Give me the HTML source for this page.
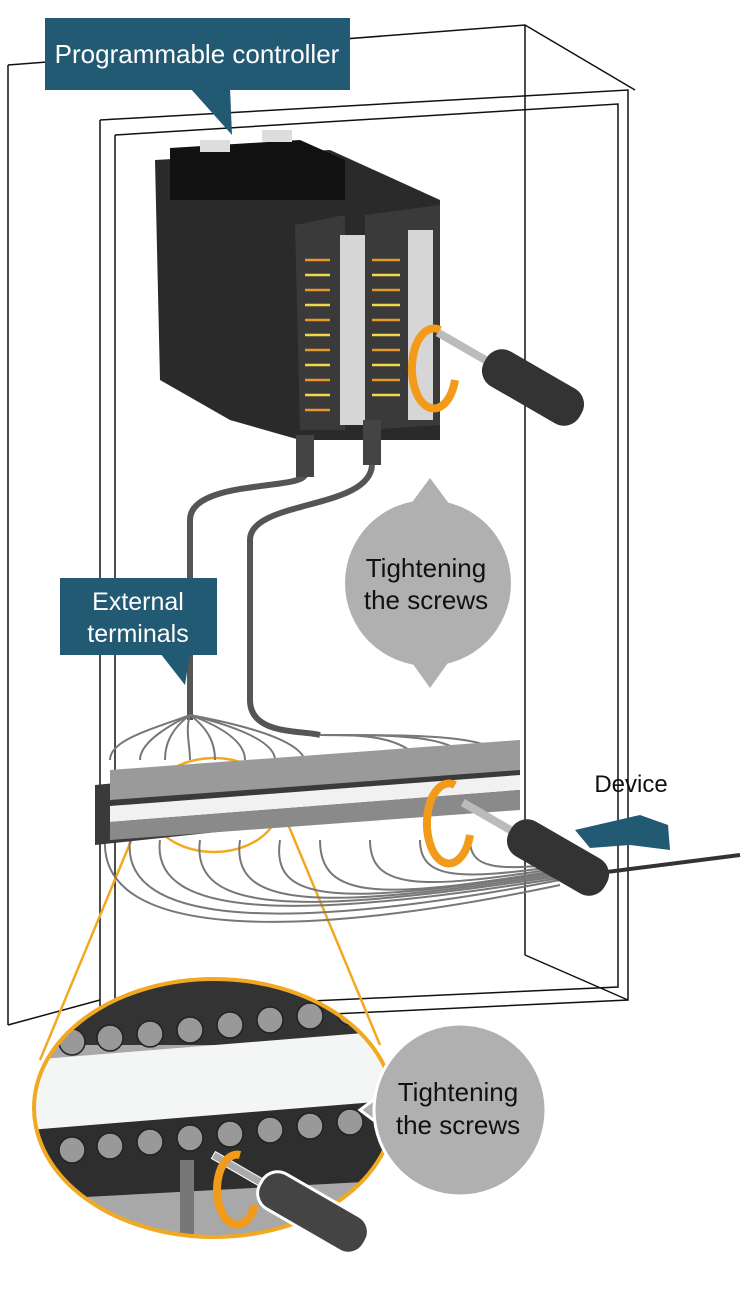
<!DOCTYPE html>
<html><head><meta charset="utf-8"><style>
html,body{margin:0;padding:0;background:#fff;}
svg{display:block;}
text{font-family:"Liberation Sans",sans-serif;}
</style></head><body>
<svg width="750" height="1312" viewBox="0 0 750 1312" xmlns="http://www.w3.org/2000/svg">
<defs>
<clipPath id="mag"><ellipse cx="214" cy="1108" rx="180" ry="129"/></clipPath>
<linearGradient id="tb" x1="0" y1="0" x2="0" y2="1"><stop offset="0" stop-color="#555"/><stop offset="1" stop-color="#222"/></linearGradient>
</defs>
<!-- cabinet -->
<g fill="none" stroke="#111" stroke-width="1.5">
<polyline points="8,65 525,25 635,90"/>
<line x1="8" y1="65" x2="8" y2="1025"/>
<line x1="8" y1="1025" x2="100" y2="1000"/>
<line x1="525" y1="25" x2="525" y2="955"/>
<line x1="525" y1="955" x2="628" y2="1000"/>
<polyline points="100,120 628,90 628,1000 100,1025 100,120"/>
<polyline points="115,135 618,104 618,987 115,1010 115,135"/>
</g>
<!-- orange zoom lines -->
<g stroke="#f2a922" stroke-width="2.5" fill="none">
<line x1="148" y1="800" x2="40" y2="1060"/>
<line x1="280" y1="805" x2="380" y2="1045"/>
<ellipse cx="214" cy="805" rx="65" ry="47"/>
</g>
<!-- cables -->
<g fill="none" stroke="#555" stroke-width="6">
<path d="M305,475 C300,490 190,480 190,520 L190,720"/>
<path d="M372,465 C370,510 250,500 250,540 L250,700 C250,735 300,730 320,735"/>
</g>
<g fill="none" stroke="#777" stroke-width="2">
<path d="M190,715 C150,730 110,740 110,760"/><path d="M190,715 C160,730 140,745 140,760"/><path d="M190,715 C170,730 165,745 165,760"/><path d="M190,715 C185,730 190,745 190,760"/><path d="M190,715 C210,730 215,745 215,760"/><path d="M190,715 C230,730 245,745 245,760"/><path d="M190,715 C250,730 275,745 275,760"/><path d="M190,715 C270,730 300,745 305,760"/>
<path d="M320,735 C360,735 400,735 420,760"/><path d="M320,735 C400,735 450,735 470,760"/><path d="M320,735 C430,735 490,735 510,760"/>
<path d="M105,840 C100,940 300,940 560,885"/><path d="M130,840 C120,930 300,930 560,880"/><path d="M160,840 C150,920 300,920 560,878"/><path d="M200,840 C190,915 300,915 560,876"/><path d="M240,840 C230,910 320,910 560,874"/><path d="M280,840 C270,905 340,905 560,872"/><path d="M320,840 C320,900 380,900 560,870"/><path d="M370,840 C370,890 420,890 560,868"/><path d="M420,840 C420,880 460,880 560,866"/><path d="M470,840 C470,870 500,870 560,864"/>
</g>
<line x1="560" y1="878" x2="740" y2="855" stroke="#333" stroke-width="4"/>
<!-- terminal block -->
<polygon points="95,785 520,745 520,800 95,845" fill="#3a3a3a"/>
<polygon points="110,770 520,740 520,770 110,800" fill="#9a9a9a"/>
<polygon points="110,806 520,775 520,790 110,822" fill="#f1f1f1"/>
<polygon points="110,822 520,790 520,810 110,840" fill="#8a8a8a"/>
<!-- PLC -->
<polygon points="155,160 330,150 440,200 440,440 300,440 230,420 160,380" fill="#2a2a2a"/>
<polygon points="170,148 300,140 345,160 345,200 170,200" fill="#111"/>
<polygon points="295,225 345,215 345,430 300,430" fill="#3a3a3a"/>
<polygon points="365,215 440,205 440,425 365,430" fill="#3a3a3a"/>
<rect x="340" y="235" width="25" height="190" fill="#d6d6d6"/>
<rect x="408" y="230" width="25" height="190" fill="#d6d6d6"/>
<rect x="200" y="140" width="30" height="12" fill="#ddd"/><rect x="262" y="130" width="30" height="12" fill="#ddd"/>
<g stroke-width="2.5" fill="none">
<path d="M305,260 L330,260 M305,290 L330,290 M305,320 L330,320 M305,350 L330,350 M305,380 L330,380 M305,410 L330,410" stroke="#e39a2a"/>
<path d="M305,275 L330,275 M305,305 L330,305 M305,335 L330,335 M305,365 L330,365 M305,395 L330,395" stroke="#f0d84a"/>
<path d="M372,260 L400,260 M372,290 L400,290 M372,320 L400,320 M372,350 L400,350 M372,380 L400,380" stroke="#e39a2a"/>
<path d="M372,275 L400,275 M372,305 L400,305 M372,335 L400,335 M372,365 L400,365 M372,395 L400,395" stroke="#f0d84a"/>
</g>
<rect x="296" y="435" width="18" height="42" fill="#444"/><rect x="363" y="420" width="18" height="45" fill="#444"/>
<!-- screwdriver upper -->
<g transform="translate(520,380) rotate(30)"><rect x="-95" y="-4" width="60" height="8" fill="#bbb"/><rect x="-40" y="-20" width="110" height="40" rx="18" fill="#333"/></g>
<path d="M440,330 A22,40 0 1 0 455,380" fill="none" stroke="#f29a1a" stroke-width="8"/>
<!-- screwdriver lower -->
<g transform="translate(545,850) rotate(30)"><rect x="-95" y="-4" width="60" height="8" fill="#bbb"/><rect x="-40" y="-20" width="110" height="40" rx="18" fill="#333"/></g>
<path d="M455,785 A22,40 0 1 0 470,835" fill="none" stroke="#f29a1a" stroke-width="8"/>
<!-- device arrow -->
<polygon points="575,830 640,815 668,825 670,850 630,845 590,848" fill="#235a73"/>
<text x="631" y="792" font-size="24" text-anchor="middle" fill="#111">Device</text>
<!-- labels -->
<rect x="45" y="18" width="305" height="72" fill="#235a73"/>
<polygon points="190,88 230,88 232,135" fill="#235a73"/>
<text x="197" y="63" font-size="26" fill="#fff" text-anchor="middle">Programmable controller</text>
<rect x="60" y="578" width="157" height="77" fill="#235a73"/>
<polygon points="160,653 190,653 185,685" fill="#235a73"/>
<text x="138" y="610" font-size="25" fill="#fff" text-anchor="middle">External</text>
<text x="138" y="642" font-size="25" fill="#fff" text-anchor="middle">terminals</text>
<!-- gray bubble upper -->
<polygon points="410,505 430,478 450,505" fill="#b0b0b0"/>
<polygon points="410,660 430,688 450,660" fill="#b0b0b0"/>
<circle cx="428" cy="583" r="83" fill="#b0b0b0"/>
<text x="426" y="577" font-size="26" text-anchor="middle" fill="#111">Tightening</text>
<text x="426" y="609" font-size="26" text-anchor="middle" fill="#111">the screws</text>
<!-- magnified -->
<g clip-path="url(#mag)">
<rect x="30" y="975" width="370" height="270" fill="#a8a8a8"/>
<rect x="30" y="975" width="370" height="70" fill="#333"/>
<polygon points="30,1060 400,1030 400,1100 30,1130" fill="#f4f5f5"/>
<polygon points="30,1130 400,1100 400,1180 30,1200" fill="#2e2e2e"/>
<g fill="#999" stroke="#222" stroke-width="1.5">
<circle cx="72" cy="1042" r="13"/><circle cx="110" cy="1038" r="13"/><circle cx="150" cy="1034" r="13"/><circle cx="190" cy="1030" r="13"/><circle cx="230" cy="1025" r="13"/><circle cx="270" cy="1020" r="13"/><circle cx="310" cy="1016" r="13"/><circle cx="350" cy="1012" r="13"/>
<circle cx="72" cy="1150" r="13"/><circle cx="110" cy="1146" r="13"/><circle cx="150" cy="1142" r="13"/><circle cx="190" cy="1138" r="13"/><circle cx="230" cy="1134" r="13"/><circle cx="270" cy="1130" r="13"/><circle cx="310" cy="1126" r="13"/><circle cx="350" cy="1122" r="13"/>
</g>
<rect x="180" y="1160" width="14" height="80" fill="#777"/>
</g>
<ellipse cx="214" cy="1108" rx="180" ry="129" fill="none" stroke="#f2a922" stroke-width="4"/>
<g transform="translate(300,1205) rotate(30)"><rect x="-100" y="-4" width="60" height="8" fill="#aaa" stroke="#fff"/><rect x="-45" y="-20" width="120" height="40" rx="18" fill="#444" stroke="#fff" stroke-width="3"/></g>
<path d="M240,1155 A20,35 0 1 0 255,1205" fill="none" stroke="#f29a1a" stroke-width="8"/>
<!-- gray bubble lower -->
<polygon points="360,1110 400,1080 400,1140" fill="#b0b0b0" stroke="#fff" stroke-width="3"/>
<circle cx="460" cy="1110" r="86" fill="#b0b0b0" stroke="#fff" stroke-width="3"/>
<polygon points="378,1110 402,1090 402,1130" fill="#b0b0b0"/>
<text x="458" y="1101" font-size="26" text-anchor="middle" fill="#111">Tightening</text>
<text x="458" y="1134" font-size="26" text-anchor="middle" fill="#111">the screws</text>
</svg>
</body></html>
